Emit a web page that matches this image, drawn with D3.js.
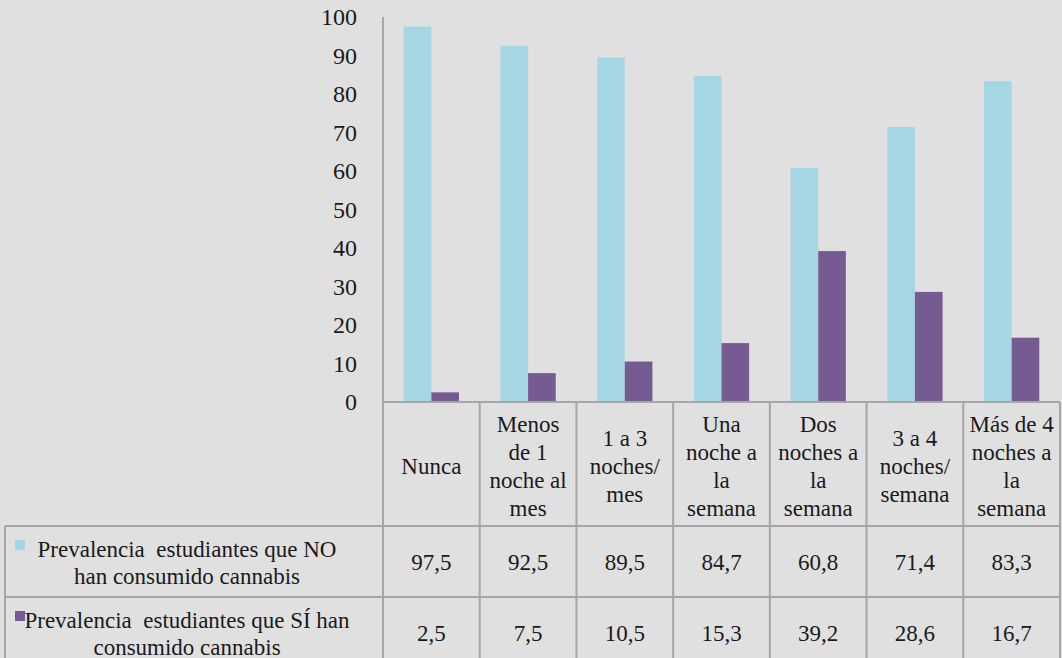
<!DOCTYPE html>
<html>
<head>
<meta charset="utf-8">
<script src="https://cdn.jsdelivr.net/npm/d3@7"></script>
</head>
<body style="margin:0;background:#e0e0e0">
<svg id="chart" width="1062" height="658" style="display:block"></svg>
<script>
// --- data ---
const categories = ["Nunca", "Menos de 1 noche al mes", "1 a 3 noches/mes", "Una noche a la semana",
                    "Dos noches a la semana", "3 a 4 noches/semana", "Más de 4 noches a la semana"];
const categoryLines = [
  ["Nunca"],
  ["Menos", "de 1", "noche al", "mes"],
  ["1 a 3", "noches/", "mes"],
  ["Una", "noche a", "la", "semana"],
  ["Dos", "noches a", "la", "semana"],
  ["3 a 4", "noches/", "semana"],
  ["Más de 4", "noches a", "la", "semana"]
];
const seriesNames = [
  ["Prevalencia\u00a0 estudiantes que NO", "han consumido cannabis"],
  ["Prevalencia\u00a0 estudiantes que SÍ han", "consumido cannabis"]
];
const valuesNo = [97.5, 92.5, 89.5, 84.7, 60.8, 71.4, 83.3];
const valuesSi = [2.5, 7.5, 10.5, 15.3, 39.2, 28.6, 16.7];
const yTicks = [0, 10, 20, 30, 40, 50, 60, 70, 80, 90, 100];

const colors = ["#a4d6e4", "#765a92"];
const series = [valuesNo, valuesSi];

const svg = d3.select("#chart");
const serifFont = "'Liberation Serif', 'Times New Roman', serif";
const fontSize = 23;
const lineH = 28;
const gridColor = "#a6a6a6";
const textColor = "#1a1a1a";

// --- layout ---
const plotLeft = 383, plotRight = 1060;
const plotTop = 17, plotBottom = 402;
const headerBottom = 526, row1Bottom = 597, tableBottom = 670;
const tableLeft = 5;

const x = d3.scaleBand().domain(categories).range([plotLeft, plotRight]).padding(0);
const groupW = x.bandwidth() * 2 / 3.5; // Excel gap width 150%
const xInner = d3.scaleBand().domain([0, 1])
  .range([(x.bandwidth() - groupW) / 2, (x.bandwidth() + groupW) / 2]);
const y = d3.scaleLinear().domain([0, 100]).range([plotBottom, plotTop]);

function label(sel, size) {
  return sel.style("font-family", serifFont)
    .style("font-size", size + "px")
    .attr("fill", textColor);
}

// --- y axis labels ---
label(svg.append("g").selectAll("text").data(yTicks).enter().append("text"), 24)
  .attr("x", 357).attr("y", d => y(d))
  .attr("dy", "0.35em")
  .attr("text-anchor", "end")
  .text(d => d);

// --- bars ---
const groups = svg.append("g").selectAll("g").data(categories).enter().append("g")
  .attr("transform", d => `translate(${x(d)},0)`);
series.forEach((vals, s) => {
  groups.append("rect")
    .attr("x", xInner(s))
    .attr("width", xInner.bandwidth())
    .attr("y", (d, i) => y(vals[i]))
    .attr("height", (d, i) => y(0) - y(vals[i]))
    .attr("fill", colors[s]);
});

// --- table lines ---
const lines = svg.append("g").attr("stroke", gridColor).attr("stroke-width", 2);
lines.append("line").attr("x1", plotLeft).attr("x2", plotLeft).attr("y1", plotTop).attr("y2", tableBottom);
lines.append("line").attr("x1", plotLeft).attr("x2", plotRight).attr("y1", y(0)).attr("y2", y(0));
categories.forEach(c => {
  const xr = x(c) + x.bandwidth();
  lines.append("line").attr("x1", xr).attr("x2", xr).attr("y1", y(0)).attr("y2", tableBottom);
});
[headerBottom, row1Bottom].forEach(yy => {
  lines.append("line").attr("x1", tableLeft).attr("x2", plotRight).attr("y1", yy).attr("y2", yy);
});
lines.append("line").attr("x1", tableLeft).attr("x2", tableLeft).attr("y1", headerBottom).attr("y2", tableBottom);

// --- header labels ---
const headerMid = (plotBottom + headerBottom) / 2 + 2;
categoryLines.forEach((ls, i) => {
  const t = label(svg.append("text"), fontSize).attr("text-anchor", "middle");
  ls.forEach((l, j) => {
    t.append("tspan")
      .attr("x", x(categories[i]) + x.bandwidth() / 2)
      .attr("y", headerMid + (j - (ls.length - 1) / 2) * lineH)
      .attr("dy", "0.35em")
      .text(l);
  });
});

// --- rows: legend + values ---
const rowMids = [562, 633];
series.forEach((vals, s) => {
  const rowMid = rowMids[s];
  svg.append("rect")
    .attr("x", 15).attr("y", rowMid - 22)
    .attr("width", 10).attr("height", 10)
    .attr("fill", colors[s]);
  const t = label(svg.append("text"), fontSize).attr("text-anchor", "middle");
  seriesNames[s].forEach((l, j) => {
    t.append("tspan")
      .attr("x", 187)
      .attr("y", rowMid + (j - 0.5) * 27)
      .attr("dy", "0.35em")
      .text(l);
  });
  label(svg.append("g").selectAll("text").data(vals).enter().append("text"), fontSize)
    .attr("x", (d, i) => x(categories[i]) + x.bandwidth() / 2)
    .attr("y", rowMid)
    .attr("dy", "0.35em")
    .attr("text-anchor", "middle")
    .text(d => d3.format(".1f")(d).replace(".", ","));
});
</script>
</body>
</html>
